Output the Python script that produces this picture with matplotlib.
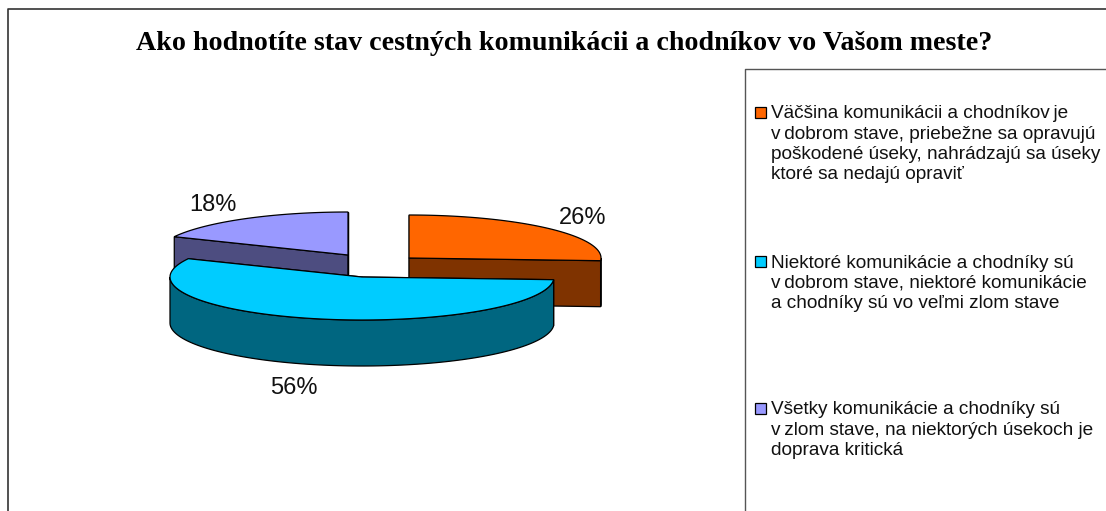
import matplotlib
matplotlib.use("Agg")
import matplotlib.pyplot as plt
import numpy as np

TITLE = "Ako hodnotíte stav cestných komunikácii a chodníkov vo Vašom meste?"
shares = [26, 56, 18]
legend_lines = [
    ["Väčšina komunikácii a chodníkov\u2009je", "v\u2009dobrom stave, priebežne sa opravujú",
     "poškodené úseky, nahrádzajú sa úseky", "ktoré sa nedajú opraviť"],
    ["Niektoré komunikácie a chodníky sú", "v\u2009dobrom stave, niektoré komunikácie",
     "a chodníky sú vo veľmi zlom stave"],
    ["Všetky komunikácie a chodníky sú", "v\u2009zlom stave, na niektorých úsekoch je",
     "doprava kritická"],
]
top_colors = ["#FF6600", "#00CCFF", "#9999FF"]
side_colors = ["#7F3300", "#006680", "#4D4D80"]

# layout, in pixels of the 1106x511 picture
centers = [(409, 258), (362, 277), (348, 255)]
RX, RY, DEPTH = 192, 43, 46
label_pos = [(583, 218), (294, 388), (213, 205)]
legend_y = [113, 262, 409]
LINE_H = 20.2


def rim(center, a0, a1):
    # angles in degrees, clockwise from 12 o'clock
    t = np.radians(np.linspace(a0, a1, 120))
    return center[0] + RX * np.sin(t), center[1] - RY * np.cos(t)


def draw_slice(ax, center, a0, a1, top, side, zorder):
    lw = 0.9
    x, y = rim(center, a0, a1)
    cx, cy = center
    # cut faces
    for ex, ey in [(x[0], y[0]), (x[-1], y[-1])]:
        ax.fill([cx, ex, ex, cx], [cy, ey, ey + DEPTH, cy + DEPTH],
                facecolor=side, edgecolor="black", lw=lw, zorder=zorder)
    # outer wall, only where it faces the viewer
    lo, hi = max(a0, 90), min(a1, 270)
    if lo < hi:
        wx, wy = rim(center, lo, hi)
        ax.fill(np.r_[wx, wx[::-1]], np.r_[wy, wy[::-1] + DEPTH],
                facecolor=side, edgecolor="black", lw=lw, zorder=zorder)
    ax.fill(np.r_[cx, x], np.r_[cy, y], facecolor=top, edgecolor="black", lw=lw, zorder=zorder + 0.5)


fig = plt.figure(figsize=(11.06, 5.11), dpi=100)
ax = fig.add_axes([0, 0, 1, 1])
ax.set_xlim(0, 1106)
ax.set_ylim(511, 0)
ax.axis("off")

# chart frame and legend box run off the picture
ax.plot([8, 8, 1106], [511, 9, 9], color="#333333", lw=1.2)
ax.plot([745, 745, 1106], [511, 69, 69], color="#555555", lw=1.0)

ax.text(564.5, 44, TITLE, family="Liberation Serif", weight="bold", fontsize=20.2,
        ha="center", va="center")

edges = np.cumsum([0] + shares) / sum(shares) * 360
# back slices first, the front one on top
for z, i in enumerate([2, 0, 1]):
    draw_slice(ax, centers[i], edges[i], edges[i + 1], top_colors[i], side_colors[i], 2 + z)

for share, (lx, ly) in zip(shares, label_pos):
    ax.text(lx, ly, f"{share}%", family="Liberation Sans", fontsize=17,
            ha="center", va="center", color="#111111", zorder=10)

for lines, y0, color in zip(legend_lines, legend_y, top_colors):
    ax.add_patch(plt.Rectangle((755, y0 - 5.5), 10.5, 10.5, facecolor=color, edgecolor="black", lw=0.9))
    for n, line in enumerate(lines):
        ax.text(771, y0 + 1 + n * LINE_H, line, family="Liberation Sans", fontsize=13.7,
                ha="left", va="center", color="#111111")

fig.savefig("out.png", dpi=100)
